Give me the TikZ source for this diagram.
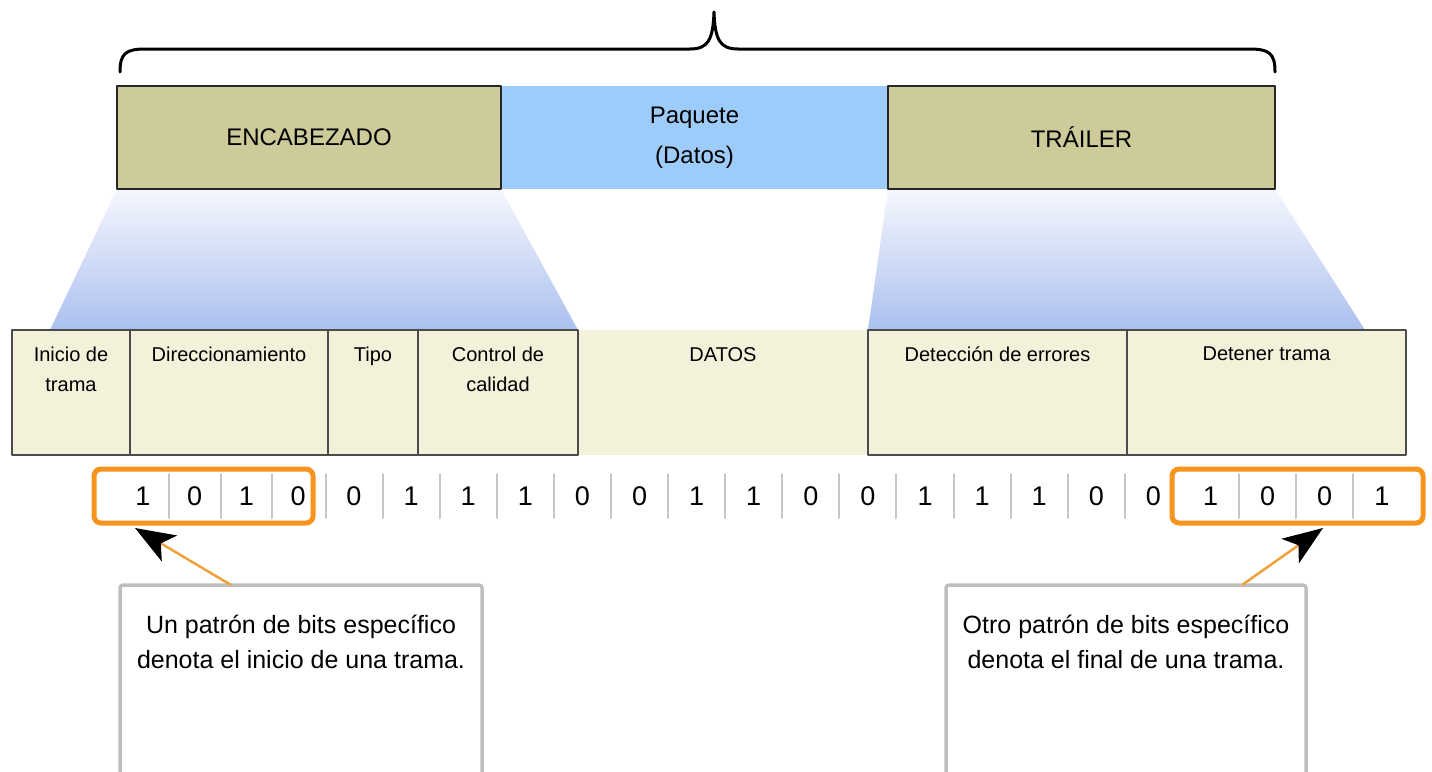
\documentclass[tikz,border=0pt]{standalone}
\usepackage{fontspec}
\setmainfont{Liberation Sans}
\usetikzlibrary{positioning,calc,backgrounds,arrows.meta}
\definecolor{caqui}{HTML}{CCCB99}
\definecolor{azulpaq}{HTML}{9ECCFA}
\definecolor{crema}{HTML}{F3F1DA}
\definecolor{sombraclara}{HTML}{F6F7FD}
\definecolor{sombra}{HTML}{ABC0EF}
\definecolor{naranja}{HTML}{F7941D}
\definecolor{naranjaguia}{HTML}{EFA13B}
\definecolor{grisdiv}{HTML}{C6C6C6}
\definecolor{grisnota}{HTML}{BEBEBE}
\tikzset{
	cabecera/.style={draw=black!85, line width=1.5pt, fill=caqui, minimum width=384pt, minimum height=103pt, outer sep=0pt, font=\fontsize{24}{28}\selectfont},
	paquete/.style={fill=azulpaq, minimum width=387pt, minimum height=103pt, outer sep=0pt, align=center, font=\fontsize{24}{40}\selectfont},
	campo/.style={draw=black!70, line width=1.5pt, fill=crema, minimum height=125pt, outer sep=0pt, label={[anchor=north, yshift=-17pt, inner sep=0pt, align=center, font=\fontsize{20}{30}\selectfont]north:#1}},
	bit/.style={inner sep=0pt, font=\fontsize{27}{27}\selectfont},
	divisor/.style={draw=grisdiv, line width=2pt},
	marco/.style={draw=naranja, line width=5pt, rounded corners=7pt},
	nota/.style={draw=grisnota, line width=3.5pt, fill=white, rounded corners=3pt, anchor=north, minimum height=200pt, outer sep=0pt, label={[anchor=north, yshift=-30pt, inner sep=0pt, align=center, font=\fontsize{25}{35}\selectfont]north:#1}},
	guia/.style={draw=naranjaguia, line width=2.5pt, line cap=butt, -{Stealth[length=40pt, width=30pt, inset=10pt, color=black]}}
}
\begin{document}
\begin{tikzpicture}[x=1pt, y=-1pt, line join=round, line cap=round]
	\useasboundingbox (0,0) rectangle (1432,771);
	\draw[line width=3pt] (120,72) .. controls (120,53) and (126,49) .. (146,49) -- (690,49) .. controls (708,49) and (713,40) .. (714,12) .. controls (715,40) and (720,49) .. (738,49) -- (1249,49) .. controls (1269,49) and (1275,53) .. (1275,72);
	\node[paquete] (paq) at (694.5,137.5) {Paquete\\(Datos)};
	\node[cabecera, left=0pt of paq] (encab) {ENCABEZADO};
	\node[cabecera, minimum width=387pt, right=0pt of paq] (trailer) {TRÁILER};
	\node[campo=DATOS, draw=none, minimum width=290pt, anchor=north west] (datos) at (578,330) {};
	\node[campo={Control de\\calidad}, minimum width=160pt, left=0pt of datos] (control) {};
	\node[campo=Tipo, minimum width=90pt, left=0pt of control] (tipo) {};
	\node[campo=Direccionamiento, minimum width=198pt, left=0pt of tipo] (direc) {};
	\node[campo={Inicio de\\trama}, minimum width=118pt, left=0pt of direc] (inicio) {};
	\node[campo={Detección de errores}, minimum width=259pt, right=0pt of datos] (deteccion) {};
	\node[campo={Detener trama}, minimum width=279pt, right=0pt of deteccion] (detener) {};
	\begin{scope}[on background layer]
		\shade[top color=sombraclara, bottom color=sombra] (encab.south west) -- (encab.south east) -- (control.north east) -- (50,330) -- cycle;
		\shade[top color=sombraclara, bottom color=sombra] (trailer.south west) -- (trailer.south east) -- (1365,330) -- (deteccion.north west) -- cycle;
	\end{scope}
	\foreach \b [count=\i] in {1,0,1,0}
		\node[bit] (b\i) at ({143+51.7*(\i-1)},496) {\b};
	\foreach \b [count=\i from 5] in {0,1,1,1,0,0,1,1,0,0,1,1,1,0,0,1,0,0,1}
		\node[bit] (b\i) at ({354+57.1*(\i-5)},496) {\b};
	\foreach \i in {1,2,...,18,20,21,22}{
		\pgfmathtruncatemacro\j{\i+1}
		\draw[divisor] ($(b\i.center)!.5!(b\j.center)$) ++(0,-22) -- ++(0,44);
	}
	\draw[marco] (94,469) rectangle (313,523);
	\draw[marco] (1172,469) rectangle (1423,523);
	\node[nota={Un patrón de bits específico\\denota el inicio de una trama.}, minimum width=362pt] (nota1) at (301,585) {};
	\node[nota={Otro patrón de bits específico\\denota el final de una trama.}, minimum width=360pt] (nota2) at (1126,585) {};
	\coordinate (puntaA) at (135,528);
	\coordinate (puntaB) at (1323,528);
	\draw[guia] ([xshift=-70pt]nota1.north) -- (puntaA);
	\draw[guia] ([xshift=116pt]nota2.north) -- (puntaB);
\end{tikzpicture}
\end{document}
